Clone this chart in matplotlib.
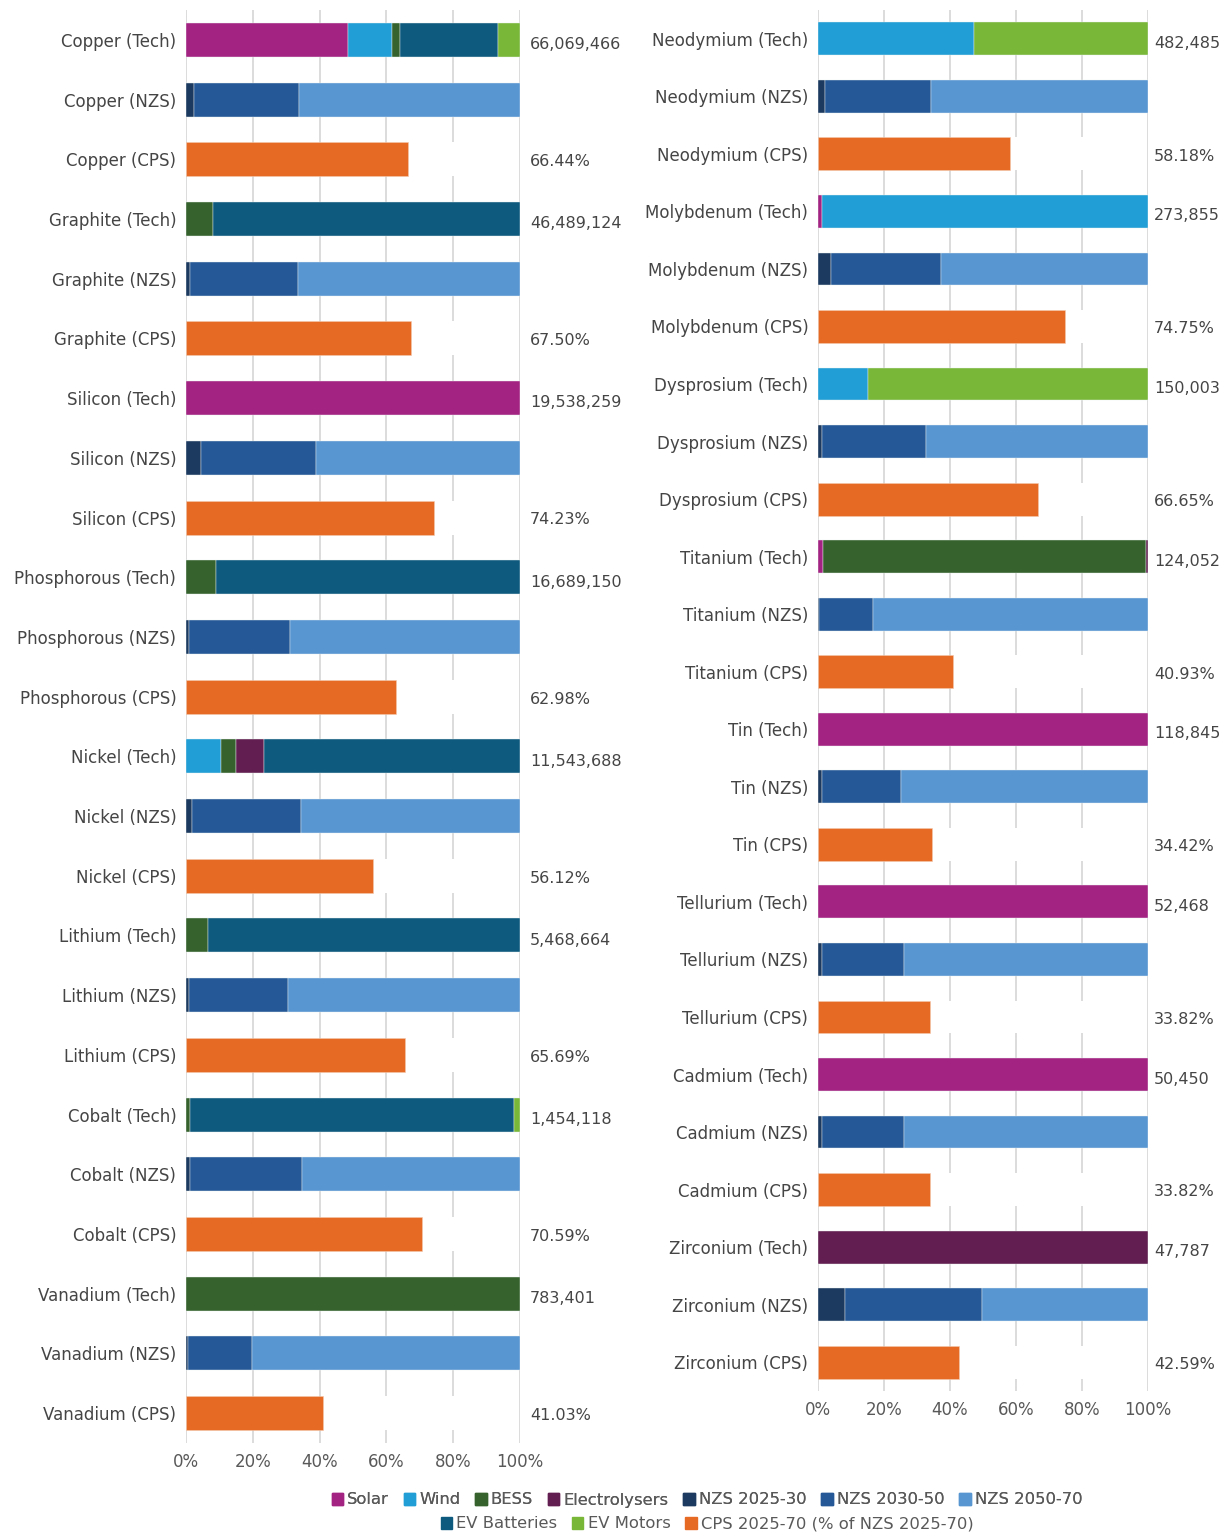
import matplotlib
matplotlib.use("Agg")
import matplotlib.pyplot as plt
from matplotlib.patches import Patch
import numpy as np

plt.rcParams['font.family'] = ['DejaVu Sans']

# ---------------- data ----------------
left_minerals = ["Copper", "Graphite", "Silicon", "Phosphorous", "Nickel", "Lithium", "Cobalt", "Vanadium"]
left_totals = [66069466, 46489124, 19538259, 16689150, 11543688, 5468664, 1454118, 783401]
left_cps = [66.44, 67.50, 74.23, 62.98, 56.12, 65.69, 70.59, 41.03]
left_solar = [48.6, 0, 100, 0, 0, 0, 0, 0]
left_wind = [13.1, 0, 0, 0, 10.5, 0, 0, 0]
left_bess = [2.3, 8.1, 0, 8.9, 4.4, 6.5, 1.1, 100]
left_elec = [0, 0, 0, 0, 8.6, 0, 0, 0]
left_evb = [29.4, 91.9, 0, 91.1, 76.5, 93.5, 97.1, 0]
left_evm = [6.6, 0, 0, 0, 0, 0, 1.8, 0]
left_nzs1 = [2.5, 1.3, 4.6, 1.0, 1.9, 1.0, 1.3, 0.5]
left_nzs2 = [31.3, 32.1, 34.3, 30.2, 32.5, 29.6, 33.4, 19.4]
left_nzs3 = [66.2, 66.6, 61.1, 68.8, 65.6, 69.4, 65.3, 80.1]

right_minerals = ["Neodymium", "Molybdenum", "Dysprosium", "Titanium", "Tin", "Tellurium", "Cadmium", "Zirconium"]
right_totals = [482485, 273855, 150003, 124052, 118845, 52468, 50450, 47787]
right_cps = [58.18, 74.75, 66.65, 40.93, 34.42, 33.82, 33.82, 42.59]
right_solar = [0, 1.2, 0, 1.5, 100, 100, 100, 0]
right_wind = [47.2, 98.8, 15.2, 0, 0, 0, 0, 0]
right_bess = [0, 0, 0, 97.8, 0, 0, 0, 0]
right_elec = [0, 0, 0, 0.7, 0, 0, 0, 100]
right_evb = [0, 0, 0, 0, 0, 0, 0, 0]
right_evm = [52.8, 0, 84.8, 0, 0, 0, 0, 0]
right_nzs1 = [2.2, 4.0, 1.3, 0.4, 1.3, 1.3, 1.3, 8.3]
right_nzs2 = [32.1, 33.3, 31.5, 16.3, 23.9, 24.8, 24.8, 41.4]
right_nzs3 = [65.7, 62.7, 67.2, 83.3, 74.8, 73.9, 73.9, 50.3]

x_ticks = [0, 20, 40, 60, 80, 100]
x_tick_labels = ["0%", "20%", "40%", "60%", "80%", "100%"]

tech_names = ["Solar", "Wind", "BESS", "Electrolysers", "EV Batteries", "EV Motors"]
nzs_names = ["NZS 2025-30", "NZS 2030-50", "NZS 2050-70"]
cps_name = "CPS 2025-70 (% of NZS 2025-70)"

colors = {
    "Solar": "#A32383",
    "Wind": "#219ED6",
    "BESS": "#36622D",
    "Electrolysers": "#621E50",
    "NZS 2025-30": "#1C3A5F",
    "NZS 2030-50": "#245896",
    "NZS 2050-70": "#5896D2",
    "EV Batteries": "#0E5A7E",
    "EV Motors": "#78B737",
    cps_name: "#E66A24",
}

TXT = "#454545"

fig = plt.figure(figsize=(12.28, 15.33), dpi=100)
W, H = 1228, 1533


def panel(rect_px, minerals, totals, cps, techs, nzs, label_x):
    x0, x1, ytop, ybot = rect_px
    ax = fig.add_axes([x0 / W, 1 - ybot / H, (x1 - x0) / W, (ybot - ytop) / H])
    n = len(minerals)
    bh = 0.57
    labels = []
    for i in range(n):
        r_tech, r_nzs, r_cps = 3 * i, 3 * i + 1, 3 * i + 2
        left = 0.0
        for name, arr in zip(tech_names, techs):
            v = arr[i]
            if v > 0:
                ax.barh(r_tech, v, left=left, height=bh, color=colors[name],
                        edgecolor="#e8eef0", linewidth=0.3, zorder=3)
                left += v
        left = 0.0
        for name, arr in zip(nzs_names, nzs):
            v = arr[i]
            if v > 0:
                ax.barh(r_nzs, v, left=left, height=bh, color=colors[name],
                        edgecolor="#e8eef0", linewidth=0.3, zorder=3)
                left += v
        ax.barh(r_cps, cps[i], height=bh, color=colors[cps_name],
                edgecolor="#f5c9ae", linewidth=0.4, zorder=3)
        ax.barh(r_cps, 100 - cps[i] - 0.6, left=cps[i], height=bh, color="white",
                linewidth=0, zorder=2)
        ax.text(label_x, r_tech + 0.08, f"{totals[i]:,}", ha="left", va="center",
                fontsize=11.5, color=TXT, clip_on=False)
        ax.text(label_x, r_cps + 0.04, f"{cps[i]:.2f}%", ha="left", va="center",
                fontsize=11.5, color=TXT, clip_on=False)
        labels += [f"{minerals[i]} (Tech)", f"{minerals[i]} (NZS)", f"{minerals[i]} (CPS)"]
    ax.set_ylim(3 * n - 0.5, -0.5)
    ax.set_xlim(0, 100)
    ax.set_yticks(range(3 * n))
    ax.set_yticklabels(labels, fontsize=12, color=TXT)
    ax.set_xticks(x_ticks)
    ax.set_xticklabels(x_tick_labels, fontsize=12, color="#595959")
    ax.tick_params(axis="both", length=0)
    ax.tick_params(axis="y", pad=7)
    ax.tick_params(axis="x", pad=7)
    for s in ax.spines.values():
        s.set_visible(False)
    ax.grid(axis="x", color="#dcdcdc", linewidth=1.4, zorder=0)
    ax.set_axisbelow(True)
    return ax


panel((186, 520, 10, 1443), left_minerals, left_totals, left_cps,
      [left_solar, left_wind, left_bess, left_elec, left_evb, left_evm],
      [left_nzs1, left_nzs2, left_nzs3], 103.0)
panel((818, 1148, 10, 1391), right_minerals, right_totals, right_cps,
      [right_solar, right_wind, right_bess, right_elec, right_evb, right_evm],
      [right_nzs1, right_nzs2, right_nzs3], 101.8)

row1 = ["Solar", "Wind", "BESS", "Electrolysers", "NZS 2025-30", "NZS 2030-50", "NZS 2050-70"]
row2 = ["EV Batteries", "EV Motors", cps_name]
common = dict(frameon=False, fontsize=11.8, handlelength=0.7, handleheight=0.7,
              handletextpad=0.25, columnspacing=0.9, borderaxespad=0, labelcolor="#595959")
leg1 = fig.legend([Patch(color=colors[k]) for k in row1], row1, ncol=7,
                  loc="center", bbox_to_anchor=(707 / W, 1 - 1500 / H), **common)
fig.add_artist(leg1)
leg2 = fig.legend([Patch(color=colors[k]) for k in row2], row2, ncol=3,
                  loc="center", bbox_to_anchor=(707 / W, 1 - 1524 / H), **common)

fig.savefig("out.png", dpi=100, facecolor="white")
